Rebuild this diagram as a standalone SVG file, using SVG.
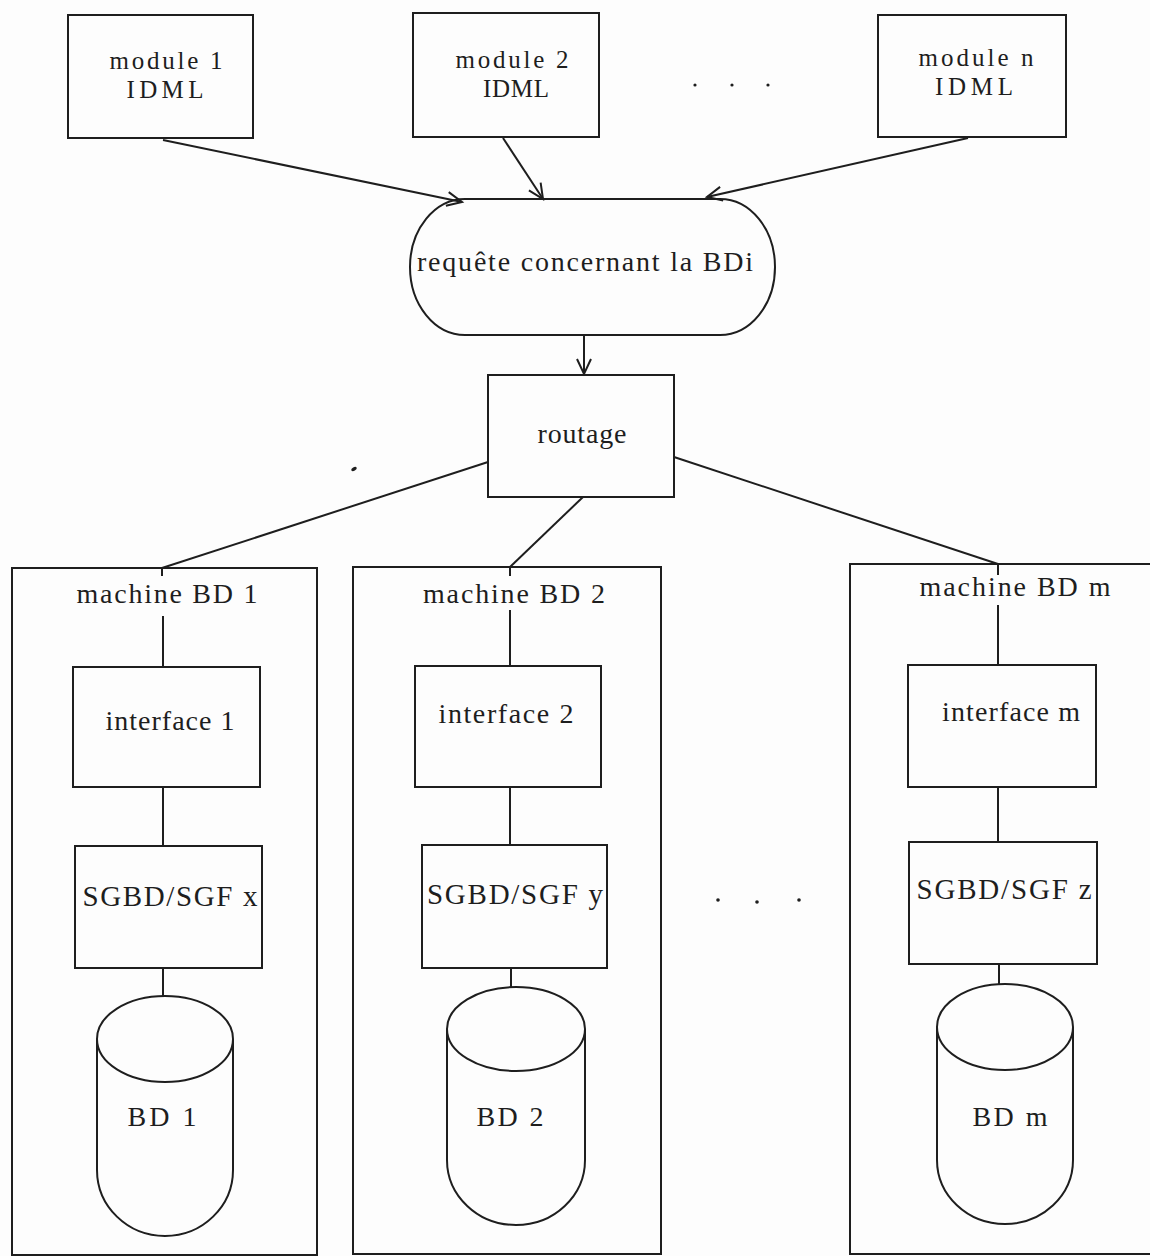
<svg xmlns="http://www.w3.org/2000/svg" width="1150" height="1256" viewBox="0 0 1150 1256">
<style>
.b{fill:none;stroke:#1e1e1e;stroke-width:2}
.t{font-family:"Liberation Serif","Times New Roman",serif;font-size:28px;fill:#1e1e1e;text-anchor:middle}
.m{font-size:25px}
.s{font-size:29px}
.c{fill:none;stroke:#1e1e1e;stroke-width:2}
.d{fill:#1e1e1e}
</style>
<defs>
<marker id="ah" markerWidth="20" markerHeight="20" refX="16" refY="8" orient="auto" markerUnits="userSpaceOnUse">
<path d="M1,1 L16,8 L1,15" fill="none" stroke="#1e1e1e" stroke-width="2"/>
</marker>
</defs>
<rect width="1150" height="1256" fill="#fdfdfd"/>

<g id="module1">
<rect class="b" x="68" y="15" width="185" height="123"/>
<text class="t m" x="166" y="69" textLength="113" lengthAdjust="spacing">module 1</text>
<text class="t m" x="165" y="98" textLength="77" lengthAdjust="spacing">IDML</text>
</g>
<g id="module2">
<rect class="b" x="413" y="13" width="186" height="124"/>
<text class="t m" x="512" y="68" textLength="113" lengthAdjust="spacing">module 2</text>
<text class="t m" x="516" y="97" textLength="66" lengthAdjust="spacing">IDML</text>
</g>
<g id="dots-top">
<circle class="d" cx="695" cy="85" r="1.6"/>
<circle class="d" cx="732" cy="85" r="1.6"/>
<circle class="d" cx="768" cy="85" r="1.6"/>
</g>
<g id="modulen">
<rect class="b" x="878" y="15" width="188" height="122"/>
<text class="t m" x="976" y="66" textLength="115" lengthAdjust="spacing">module n</text>
<text class="t m" x="974" y="95" textLength="78" lengthAdjust="spacing">IDML</text>
</g>

<g id="requete">
<rect class="b" x="410" y="199" width="365" height="136" rx="55" ry="68"/>
<text class="t" x="585" y="271" textLength="336" lengthAdjust="spacing">requête concernant la BDi</text>
</g>

<g id="routage">
<rect class="b" x="488" y="375" width="186" height="122"/>
<text class="t" x="582" y="443" textLength="89" lengthAdjust="spacing">routage</text>
</g>

<g id="machine1">
<rect class="b" x="12" y="568" width="305" height="687"/>
<text class="t" x="167" y="603" textLength="181" lengthAdjust="spacing">machine BD 1</text>
</g>
<g id="interface1">
<rect class="b" x="73" y="667" width="187" height="120"/>
<text class="t" x="170" y="730" textLength="129" lengthAdjust="spacing">interface 1</text>
</g>
<g id="sgbd1">
<rect class="b" x="75" y="846" width="187" height="122"/>
<text class="t s" x="170" y="906" textLength="175" lengthAdjust="spacing">SGBD/SGF x</text>
</g>
<g id="bd1">
<ellipse class="b" cx="165" cy="1039" rx="68" ry="43"/>
<path class="b" d="M97,1039 L97,1170 A68,66 0 0 0 233,1170 L233,1039"/>
<text class="t" x="162" y="1126" textLength="69" lengthAdjust="spacing">BD 1</text>
</g>

<g id="machine2">
<rect class="b" x="353" y="567" width="308" height="687"/>
<text class="t" x="514" y="603" textLength="182" lengthAdjust="spacing">machine BD 2</text>
</g>
<g id="interface2">
<rect class="b" x="415" y="666" width="186" height="121"/>
<text class="t" x="506" y="723" textLength="135" lengthAdjust="spacing">interface 2</text>
</g>
<g id="sgbd2">
<rect class="b" x="422" y="845" width="185" height="123"/>
<text class="t s" x="515" y="904" textLength="176" lengthAdjust="spacing">SGBD/SGF y</text>
</g>
<g id="bd2">
<ellipse class="b" cx="516" cy="1029" rx="69" ry="42"/>
<path class="b" d="M447,1029 L447,1160 A69,65 0 0 0 585,1160 L585,1029"/>
<text class="t" x="510" y="1126" textLength="67" lengthAdjust="spacing">BD 2</text>
</g>

<g id="dots-mid">
<circle class="d" cx="718" cy="900" r="1.8"/>
<circle class="d" cx="757" cy="902" r="1.8"/>
<circle class="d" cx="799" cy="900" r="1.8"/>
</g>

<g id="machinem">
<path class="b" d="M1160,564 L850,564 L850,1254 L1160,1254"/>
<text class="t" x="1015" y="596" textLength="191" lengthAdjust="spacing">machine BD m</text>
</g>
<g id="interfacem">
<rect class="b" x="908" y="665" width="188" height="122"/>
<text class="t" x="1011" y="721" textLength="138" lengthAdjust="spacing">interface m</text>
</g>
<g id="sgbdm">
<rect class="b" x="909" y="842" width="188" height="122"/>
<text class="t s" x="1004" y="899" textLength="175" lengthAdjust="spacing">SGBD/SGF z</text>
</g>
<g id="bdm">
<ellipse class="b" cx="1005" cy="1027" rx="68" ry="43"/>
<path class="b" d="M937,1027 L937,1160 A68,64 0 0 0 1073,1160 L1073,1027"/>
<text class="t" x="1010" y="1126" textLength="75" lengthAdjust="spacing">BD m</text>
</g>

<g id="connectors">
<line class="c" x1="163" y1="140" x2="462" y2="202" marker-end="url(#ah)"/>
<line class="c" x1="503" y1="138" x2="543" y2="199" marker-end="url(#ah)"/>
<line class="c" x1="968" y1="138" x2="707" y2="197" marker-end="url(#ah)"/>
<line class="c" x1="584" y1="335" x2="584" y2="374" marker-end="url(#ah)"/>
<line class="c" x1="488" y1="462" x2="162" y2="568"/>
<line class="c" x1="583" y1="497" x2="510" y2="567"/>
<line class="c" x1="674" y1="457" x2="998" y2="564"/>
<line class="c" x1="162" y1="568" x2="162" y2="576"/>
<line class="c" x1="163" y1="616" x2="163" y2="667"/>
<line class="c" x1="163" y1="787" x2="163" y2="846"/>
<line class="c" x1="163" y1="968" x2="163" y2="997"/>
<line class="c" x1="510" y1="567" x2="510" y2="576"/>
<line class="c" x1="510" y1="610" x2="510" y2="666"/>
<line class="c" x1="510" y1="787" x2="510" y2="845"/>
<line class="c" x1="511" y1="968" x2="511" y2="987"/>
<line class="c" x1="998" y1="564" x2="998" y2="575"/>
<line class="c" x1="998" y1="605" x2="998" y2="665"/>
<line class="c" x1="998" y1="787" x2="998" y2="842"/>
<line class="c" x1="999" y1="964" x2="999" y2="984"/>
</g>
<ellipse class="d" cx="354" cy="469" rx="3" ry="1.8" transform="rotate(-30 354 469)"/>
</svg>
